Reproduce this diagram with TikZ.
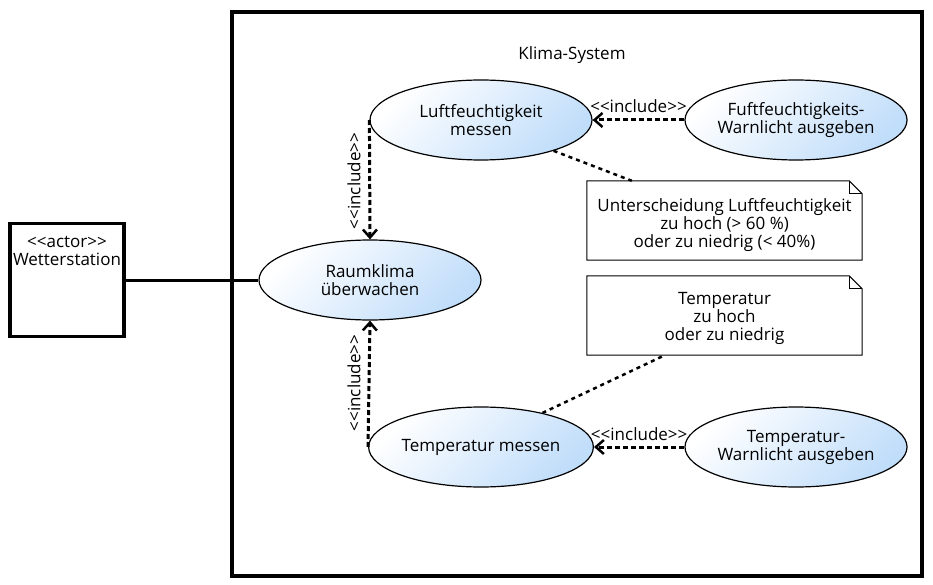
\documentclass[tikz,border=0pt]{standalone}
\usepackage{fontspec}
\setmainfont{Open Sans}
\usetikzlibrary{arrows.meta,shapes.geometric}
\definecolor{ucblue}{RGB}{192,221,250}
\newcommand{\stereo}[1]{<{}<#1>{}>}

\tikzset{
  usecase/.style={ellipse, draw, line width=1.2pt, minimum width=222pt, minimum height=80pt,
    inner sep=0pt, align=center, top color=white, bottom color=ucblue, shading angle=45},
  incl/.style={line width=3pt, dash pattern=on 5pt off 3pt,
    -{Straight Barb[length=8pt,width=14pt,line width=2.5pt]}},
  noteline/.style={line width=2.5pt, dash pattern=on 4pt off 4pt},
  notebox/.style={minimum width=275pt, minimum height=79pt, inner sep=0pt}
}

\begin{document}
\begin{tikzpicture}[x=1pt,y=-1pt,font=\fontsize{17}{18}\selectfont]
  \useasboundingbox (0,0) rectangle (933,585);
  % system boundary
  \draw[line width=3.5pt] (232,12) rectangle (922,576);
  \node (sysname) at (572,55) {Klima-System};
  % actor
  \node[draw, line width=3.5pt, minimum width=114pt, minimum height=113pt, inner sep=0pt,
        label={[anchor=north, yshift=-11pt, align=center]north:\stereo{actor}\\Wetterstation}]
        (actor) at (67,280) {};
  % use cases
  \node[usecase] (raum) at (370,280) {Raumklima\\überwachen};
  \node[usecase] (luft) at (481,120) {Luftfeuchtigkeit\\messen};
  \node[usecase] (luftwarn) at (796,120) {Fuftfeuchtigkeits-\\Warnlicht ausgeben};
  \node[usecase] (temp) at (481,447) {Temperatur messen};
  \node[usecase] (tempwarn) at (796,447) {Temperatur-\\Warnlicht ausgeben};
  % notes
  \node[notebox, label={[align=center, yshift=-5pt]center:Unterscheidung Luftfeuchtigkeit\\zu hoch (> 60 \%)\\oder zu niedrig (< 40\%)}]
    (noteA) at (724.5,220.5) {};
  \node[notebox, label={[align=center, yshift=-3pt]center:Temperatur\\zu hoch\\oder zu niedrig}]
    (noteB) at (724.5,315.5) {};
  \foreach \n in {noteA,noteB}{
    \draw[line width=1pt] (\n.north west) -- ([xshift=-13pt]\n.north east) -- ([yshift=-13pt]\n.north east)
      -- (\n.south east) -- (\n.south west) -- cycle;
    \draw[line width=1pt] ([xshift=-13pt]\n.north east) -- ([xshift=-13pt,yshift=-13pt]\n.north east)
      -- ([yshift=-13pt]\n.north east);
  }
  % connectors
  \draw[line width=3pt] (actor.east) -- (raum.west);
  \draw[incl] (luft.west) -- (raum.north);
  \draw[incl] (temp.west) -- (raum.south);
  \draw[incl] (luftwarn.west) -- node[above=2pt] (inclC) {\stereo{include}} (luft.east);
  \draw[incl] (tempwarn.west) -- node[above=2pt] (inclD) {\stereo{include}} (temp.east);
  \node[rotate=90] (inclA) at (354,181) {\stereo{include}};
  \node[rotate=90] (inclB) at (354,383) {\stereo{include}};
  \draw[noteline] (luft.-23) -- ([xshift=45pt]noteA.north west);
  \draw[noteline] (temp.29) -- ([xshift=78pt]noteB.south west);
\end{tikzpicture}
\end{document}
